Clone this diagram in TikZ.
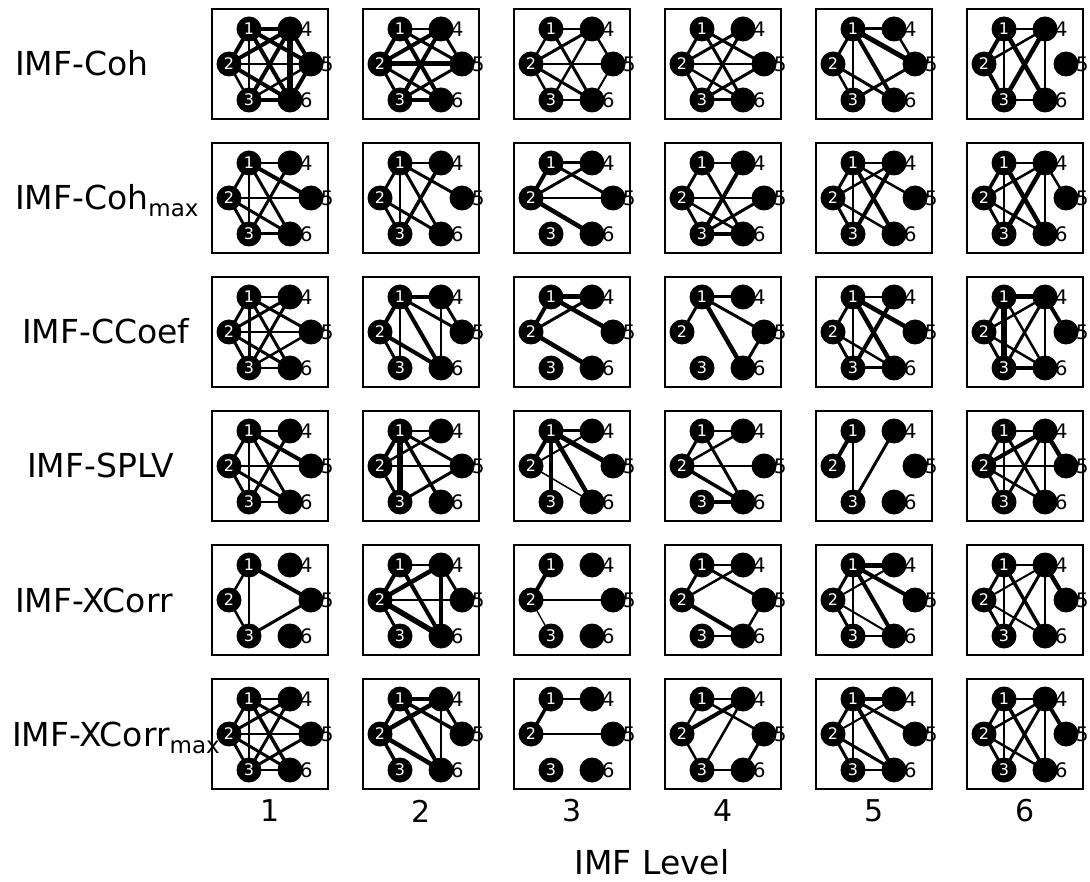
\documentclass[tikz,border=0pt]{standalone}
\usepackage{fontspec}
\setmainfont{DejaVu Sans}
\pgfdeclarelayer{bg}
\pgfsetlayers{bg,main}
\tikzset{
 panelbox/.style={draw=black, line width=2pt, minimum width=116pt, minimum height=110pt, inner sep=0pt},
 vtx/.style={circle, fill=black, minimum size=25pt, inner sep=0pt, text=white, font=\fontsize{16}{16}\selectfont},
 vlab/.style={font=\fontsize{20}{20}\selectfont, inner sep=0pt, text=black},
 rowlab/.style={anchor=base west, font=\fontsize{33}{33}\selectfont, inner sep=0pt},
 collab/.style={font=\fontsize{30}{30}\selectfont, inner sep=0pt},
 netedge/.style={draw=black, line cap=round}
}
\newcommand\netpanel[3]{%
  \pgfmathsetmacro\cx{270+151*(#2-1)}%
  \pgfmathsetmacro\cy{64+134*(#1-1)}%
  \node[panelbox] (b#1#2) at (\cx,\cy) {};
  \node[vtx] (v#1#2-1) at (\cx-21,\cy-35) {1};
  \node[vtx] (v#1#2-2) at (\cx-41,\cy) {2};
  \node[vtx] (v#1#2-3) at (\cx-21,\cy+36) {3};
  \node[vtx, label={[vlab, label distance=-3pt]0:4}] (v#1#2-4) at (\cx+20,\cy-35) {};
  \node[vtx, label={[vlab, label distance=-3pt]0:5}] (v#1#2-5) at (\cx+41,\cy) {};
  \node[vtx, label={[vlab, label distance=-3pt]0:6}] (v#1#2-6) at (\cx+20,\cy+36) {};
  \begin{pgfonlayer}{bg}
  \foreach \a/\b/\w in {#3} {\draw[netedge, line width=\w pt] (v#1#2-\a.center) -- (v#1#2-\b.center);}
  \end{pgfonlayer}
}
\begin{document}
\begin{tikzpicture}[x=1pt,y=-1pt]
\useasboundingbox (0,0) rectangle (1090,882);
% row labels
\node[rowlab] (r1) at (15,76) {IMF-Coh};
\node[rowlab] (r2) at (15,210) {IMF-Coh\raisebox{-7pt}{\fontsize{23}{23}\selectfont max}};
\node[rowlab] (r3) at (22,344) {IMF-CCoef};
\node[rowlab] (r4) at (27,478) {IMF-SPLV};
\node[rowlab] (r5) at (15,612) {IMF-XCorr};
\node[rowlab] (r6) at (12,746) {IMF-XCorr\raisebox{-7pt}{\fontsize{23}{23}\selectfont max}};
% row 1
\netpanel{1}{1}{1/4/4, 1/2/4, 1/5/4, 1/6/4, 1/3/2.5, 2/4/4, 2/5/2.5, 2/6/4, 2/3/2.5, 3/4/4, 3/5/2.5, 3/6/4, 4/6/6, 4/5/4, 5/6/4}
\netpanel{1}{2}{1/4/2, 1/2/4, 1/5/3, 1/6/4, 2/4/4, 2/5/5, 2/6/3, 2/3/3, 3/4/4, 3/5/3, 3/6/4, 4/5/3}
\netpanel{1}{3}{1/2/2.5, 1/4/2.5, 1/6/3, 2/4/3, 2/5/1.3, 2/6/3, 2/3/2.5, 3/4/2.5, 3/6/2.5, 4/5/2.5, 5/6/2}
\netpanel{1}{4}{1/2/3, 1/5/3, 1/6/3, 2/4/3, 2/5/1.3, 2/3/3, 2/6/2.5, 3/4/3, 3/5/3, 3/6/3}
\netpanel{1}{5}{1/4/3, 1/2/3, 1/3/1.3, 1/5/5, 1/6/4, 2/3/2.5, 2/6/3, 3/5/3, 4/5/2.5}
\netpanel{1}{6}{1/4/2, 1/2/4, 1/3/1.3, 1/6/4.5, 2/4/2.5, 2/3/4, 3/4/4.5, 4/6/2, 3/6/2}
% row 2
\netpanel{2}{1}{1/4/1.5, 1/2/3, 1/3/2, 1/5/4, 1/6/3, 2/5/1.3, 2/6/3, 2/3/3, 3/4/3, 3/6/3}
\netpanel{2}{2}{1/4/1.5, 1/2/3, 1/3/1.3, 1/5/3, 1/6/3, 2/6/3, 3/4/3.5, 2/3/3}
\netpanel{2}{3}{1/2/4, 1/4/3, 2/4/3, 2/5/1.3, 1/5/3, 2/6/4.5}
\netpanel{2}{4}{1/4/2, 1/2/3, 1/6/3, 3/4/4, 2/5/1.3, 2/3/3, 2/6/2.5, 3/5/3, 3/6/3.5}
\netpanel{2}{5}{1/4/2, 1/2/3, 1/3/1.3, 1/5/2.5, 1/6/4, 2/4/2.5, 2/6/2.5, 3/4/4, 2/3/3}
\netpanel{2}{6}{1/4/2, 1/2/3.5, 1/3/2, 1/6/4.5, 2/4/2.5, 2/6/2.5, 2/3/3, 3/4/4.5, 4/6/2, 4/5/2.5}
% row 3
\netpanel{3}{1}{1/4/1.5, 1/2/3, 1/3/3, 1/5/3, 1/6/3, 2/4/3, 2/5/1.5, 2/6/3, 2/3/3, 3/4/3, 3/6/1.5, 3/5/2.5}
\netpanel{3}{2}{1/4/4, 1/2/4, 1/3/1.3, 1/5/3, 1/6/4, 2/3/3, 2/6/4, 4/5/3, 4/6/1.3}
\netpanel{3}{3}{1/4/5, 1/2/4, 2/4/3, 1/5/4.5, 2/6/4.5}
\netpanel{3}{4}{1/4/3, 1/2/3, 1/6/4.5, 1/5/3, 5/6/3}
\netpanel{3}{5}{1/4/2, 1/2/3, 1/3/1.3, 1/6/4.5, 1/5/4.5, 3/4/4, 2/6/2.5, 2/3/3, 3/6/3}
\netpanel{3}{6}{1/4/5, 1/2/3, 1/3/6, 1/6/2.5, 2/4/2.5, 3/4/3, 4/6/2, 4/5/4, 2/3/3, 2/6/2.5, 3/6/4}
% row 4
\netpanel{4}{1}{1/4/1.5, 1/2/3, 1/3/2.5, 1/5/4, 1/6/3, 2/5/1.5, 2/6/3, 2/3/3, 3/6/1.5, 3/4/3}
\netpanel{4}{2}{1/4/2, 1/2/4, 1/3/6, 1/5/3, 1/6/3.5, 2/5/1.3, 2/3/3, 3/5/3, 2/4/2.5}
\netpanel{4}{3}{1/4/3, 1/2/4, 1/3/4, 1/5/5, 1/6/4.5, 2/6/1.5, 2/4/2}
\netpanel{4}{4}{1/4/1.5, 1/2/3, 2/4/2.5, 1/6/3, 2/5/1.3, 2/6/3.5, 3/6/4}
\netpanel{4}{5}{1/2/4, 1/3/1.3, 3/4/3}
\netpanel{4}{6}{1/4/2, 1/2/3, 1/3/2, 1/6/3, 2/4/4, 2/5/1.3, 2/6/2.5, 3/4/3, 4/6/2, 4/5/4.5, 2/3/3}
% row 5
\netpanel{5}{1}{1/2/2.5, 1/3/1.3, 1/5/4, 2/3/2.5, 3/5/3}
\netpanel{5}{2}{1/4/2.5, 1/2/4, 1/6/4, 2/4/4.5, 2/5/1.3, 2/6/5.5, 2/3/3, 4/6/4, 4/5/3}
\netpanel{5}{3}{1/2/4, 2/5/1.3, 2/3/1.3}
\netpanel{5}{4}{1/4/1.5, 1/2/3, 2/4/2.5, 1/5/3, 2/6/4, 5/6/2.5, 3/6/2.5}
\netpanel{5}{5}{1/4/5, 1/2/3, 1/3/1.3, 1/6/4, 1/5/4, 2/4/2, 2/6/2, 2/3/3, 3/6/2.5}
\netpanel{5}{6}{1/4/1.5, 1/2/3, 1/3/1.3, 1/6/3.5, 2/4/2, 3/4/3, 4/6/2, 4/5/4.5, 2/6/2, 2/3/3}
% row 6
\netpanel{6}{1}{1/4/1.5, 1/2/3, 1/3/2, 1/5/3, 1/6/3.5, 2/4/3, 2/5/1.5, 2/6/3, 2/3/3, 3/4/3, 3/5/3, 3/6/1.5}
\netpanel{6}{2}{1/4/4.5, 1/2/3.5, 2/4/4.5, 1/6/4, 1/5/3.5, 4/6/1.3, 4/5/3, 2/6/4.5, 2/3/3.5}
\netpanel{6}{3}{1/4/2.5, 1/2/3.5, 2/5/1.5}
\netpanel{6}{4}{1/4/1.5, 1/2/2.5, 2/4/4, 3/4/2.5, 1/5/2.5, 2/3/2.5, 3/6/2.5, 5/6/3}
\netpanel{6}{5}{1/4/4.5, 1/2/3, 1/3/1.3, 1/6/4, 1/5/3, 2/4/2, 2/6/3, 2/3/3, 3/6/2.5}
\netpanel{6}{6}{1/4/1.5, 1/2/3, 1/3/1.3, 1/6/3.5, 2/4/2.5, 3/4/3, 4/6/2, 4/5/4, 2/6/2.5, 2/3/3}
% column labels
\foreach \c in {1,...,6} {\node[collab] (c\c) at ({270+151*(\c-1)},811) {\c};}
\node[collab, font=\fontsize{33}{33}\selectfont] (xl) at (652,862) {IMF Level};
\end{tikzpicture}
\end{document}
